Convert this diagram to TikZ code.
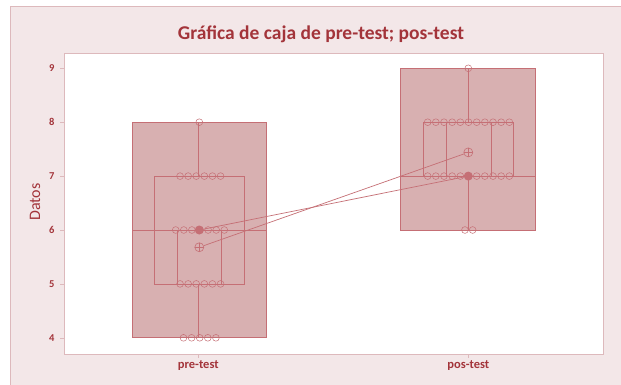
\documentclass[tikz,border=0pt]{standalone}
\usepackage{fontspec}
\setmainfont{Carlito}
\definecolor{fondo}{HTML}{F3E7E8}
\definecolor{marco}{HTML}{DDB9BC}
\definecolor{texto}{HTML}{A3343A}
\definecolor{caja}{HTML}{D8B0B1}
\definecolor{linea}{HTML}{C56F75}
\usepackage{tikz}

\begin{document}
\begin{tikzpicture}[x=1pt,y=-1pt,
    cajabox/.style={draw=linea,fill=caja,line width=0.9pt},
    trazo/.style={draw=linea,line width=0.8pt},
    punto/.style={circle,draw=linea,inner sep=0pt,minimum size=6.8pt,line width=0.5pt},
    mediana/.style={circle,fill=linea,inner sep=0pt,minimum size=9pt},
    media/.style={circle,draw=linea,inner sep=0pt,minimum size=9pt,line width=0.6pt,
        path picture={\draw[linea,line width=0.6pt]
            (path picture bounding box.north) -- (path picture bounding box.south)
            (path picture bounding box.west) -- (path picture bounding box.east);}},
    etiq/.style={text=texto,font=\bfseries\fontsize{10.5}{12}\selectfont}]
    \useasboundingbox (0,0) rectangle (621,385);
    % fondo y marco
    \fill[white] (0,0) rectangle (621,385);
    \draw[marco,fill=fondo] (10,6) rectangle (624,388);
    \draw[marco,fill=white] (64,53) rectangle (603,354);
    \node[text=texto,font=\bfseries\fontsize{19.5}{22}\selectfont] (titulo) at (321,34) {Gráfica de caja de pre-test; pos-test};
    \node[text=texto,rotate=90,font=\fontsize{16}{18}\selectfont] (ejey) at (35,202) {Datos};
    % eje x
    \foreach \xc/\nom in {198.3/pre-test,468.3/pos-test}{
        \draw[marco] (\xc,354) -- (\xc,358);
        \node[etiq,font=\bfseries\fontsize{12.5}{14}\selectfont] at (\xc,366) {\nom};
    }
    \begin{scope}[yshift=-553.4pt,y=53.9pt]
        % eje y
        \foreach \v in {4,...,9}{
            \draw[marco] (60,\v) -- (64,\v);
            \node[etiq,anchor=east] at (58,\v) {\v};
        }
        % pre-test
        \draw[cajabox] (132.3,4) rectangle (266.7,8);
        \draw[trazo] (154.3,5) rectangle (244,7);
        \draw[trazo] (177.3,5) rectangle (221.3,6);
        \draw[trazo] (132.3,6) -- (266.7,6);
        \draw[trazo] (198.3,7) -- (198.3,8) (198.3,4) -- (198.3,5);
        \node[punto] at (199.3,8) {};
        \foreach \k in {-2.5,...,2.5}{
            \node[punto] at (200.3+8.1*\k,7) {};
            \node[punto] at (200.3+8.1*\k,5) {};
        }
        \foreach \k in {-3,...,3} \node[punto] at (200+8.1*\k,6) {};
        \foreach \k in {-2,...,2} \node[punto] at (199.7+8.1*\k,4) {};
        % pos-test
        \draw[cajabox] (400.7,6) rectangle (535,9);
        \draw[trazo] (423.3,7) rectangle (513.3,8);
        \draw[trazo] (446.7,7) rectangle (491,8);
        \draw[trazo] (400.7,7) -- (535,7);
        \draw[trazo] (468.3,8) -- (468.3,9) (468.3,6) -- (468.3,7);
        \node[punto] at (468.3,9) {};
        \foreach \k in {-5,...,5}{
            \node[punto] at (468.5+8.17*\k,8) {};
            \node[punto] at (468.5+8.17*\k,7) {};
        }
        \foreach \k in {-0.5,0.5} \node[punto] at (468.8+7.7*\k,6) {};
        % medianas y medias
        \node[mediana] (premed) at (199.3,6) {};
        \node[mediana] (posmed) at (468.3,7) {};
        \node[media] (premedia) at (199.3,5.68) {};
        \node[media] (posmedia) at (468.3,7.44) {};
        \draw[linea,line width=0.7pt] (premed) -- (posmed);
        \draw[linea,line width=0.7pt] (premedia) -- (posmedia);
    \end{scope}
\end{tikzpicture}
\end{document}
